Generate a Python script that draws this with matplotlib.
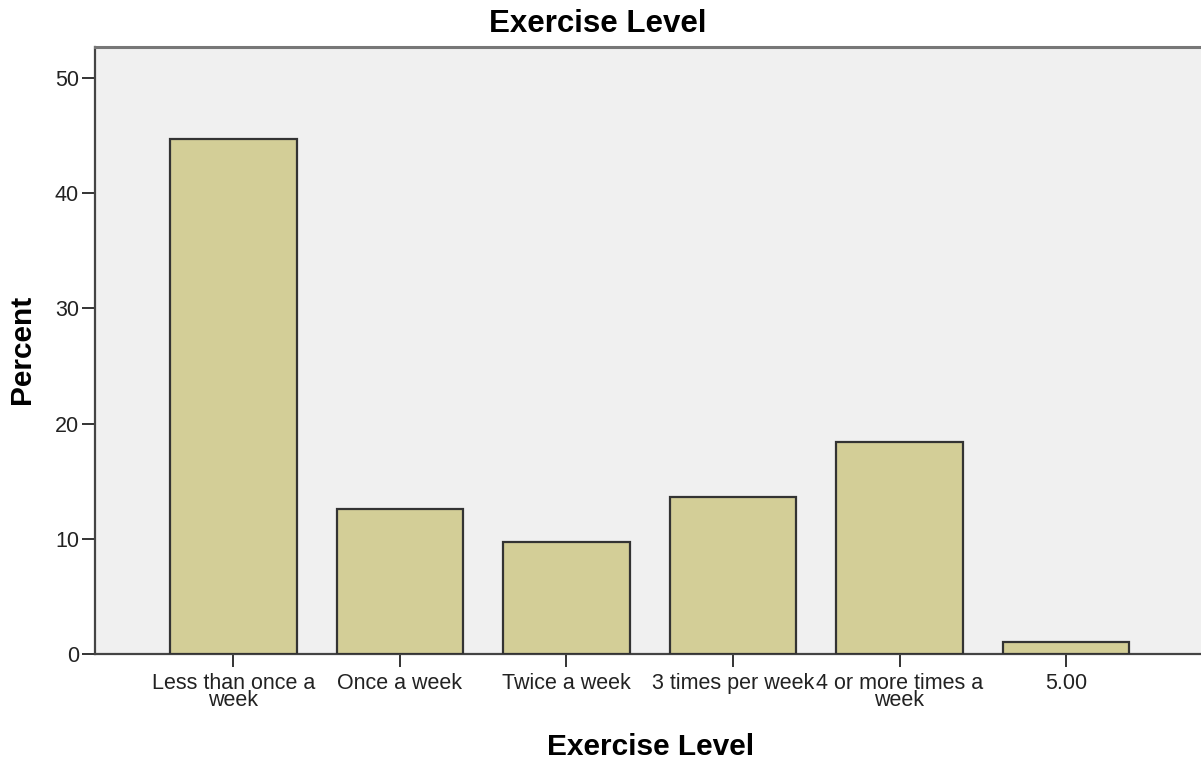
import matplotlib
matplotlib.use("Agg")
import matplotlib.pyplot as plt

# values
categories = ["Less than once a\nweek", "Once a week", "Twice a week",
              "3 times per week", "4 or more times a\nweek", "5.00"]
percent = [44.7, 12.6, 9.7, 13.6, 18.4, 1.0]
y_ticks = [0, 10, 20, 30, 40, 50]

plt.rcParams['font.family'] = ['Liberation Sans', 'DejaVu Sans']

fig = plt.figure(figsize=(12.01, 7.64), dpi=100)
ax = fig.add_axes([95 / 1201, 110 / 764, 1 - 95 / 1201, (654 - 47) / 764])
ax.set_facecolor("#f0f0f0")

x = list(range(len(categories)))
ax.bar(x, percent, width=0.76, color="#d3ce97", edgecolor="#333333", linewidth=1.6, zorder=3)

ax.set_xlim(-0.83, 5.81)
ax.set_ylim(0, 52.7)
ax.set_yticks(y_ticks)
ax.set_xticks(x)
ax.set_xticklabels(categories, linespacing=0.78)

ax.spines["right"].set_visible(False)
for side in ["left", "bottom"]:
    ax.spines[side].set_color("#444444")
    ax.spines[side].set_linewidth(1.6)
ax.spines["top"].set_color("#777777")
ax.spines["top"].set_linewidth(2.2)

ax.tick_params(axis="both", direction="out", length=9.5, width=1.4, color="#333333",
               labelsize=15.5, labelcolor="#222222")
ax.tick_params(axis="y", pad=2)
ax.tick_params(axis="x", pad=4)

fig.text(0.498, 1 - 24 / 764, "Exercise Level", ha="center", va="center",
         fontsize=22.5, fontweight="bold")
fig.text(651 / 1201, 1 - 747 / 764, "Exercise Level", ha="center", va="center",
         fontsize=21.5, fontweight="bold")
fig.text(22 / 1201, 1 - 349 / 764, "Percent", ha="center", va="center",
         rotation=90, fontsize=21.5, fontweight="bold")

fig.savefig("out.png", dpi=100)
